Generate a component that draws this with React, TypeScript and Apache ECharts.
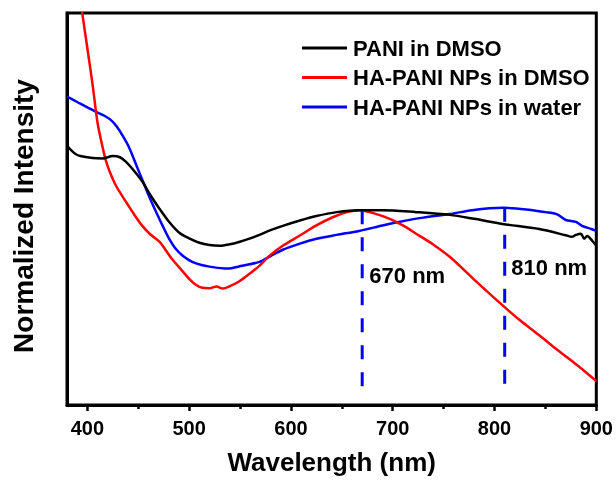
import React, { useEffect, useRef } from "react";
import * as echarts from "echarts";

const FONT = "'Liberation Sans', Arial, sans-serif";

// Wavelength ticks
const majorTicks = [400, 500, 600, 700, 800, 900];
const minorTicks = [450, 550, 650, 750, 850];

// Series names
const seriesNames = ["PANI in DMSO", "HA-PANI NPs in DMSO", "HA-PANI NPs in water"];
const seriesColors = ["#000000", "#ff0000", "#0000ff"];

// [wavelength (nm), normalized intensity]
const paniDmso = [
  [380, 66.2], [384, 65.0], [388, 64.1], [393, 63.5], [405, 63.0], [415, 62.9],
  [425, 63.5], [432, 63.2], [438, 62.0], [445, 60.0], [454, 57.0], [462, 53.5],
  [471, 50.0], [480, 46.8], [490, 44.0], [500, 42.5], [510, 41.4], [520, 40.8],
  [530, 40.6], [540, 41.0], [549, 41.6], [560, 42.5], [569, 43.4], [580, 44.6],
  [592, 45.7], [608, 47.0], [625, 48.2], [645, 49.2], [667, 49.7], [690, 49.7],
  [723, 49.2], [756, 48.5], [780, 47.5], [808, 46.2], [844, 44.9], [870, 43.3],
  [876, 42.9], [880, 43.4], [885, 43.7], [888, 42.4], [891, 43.1], [896, 41.9],
  [900, 40.6],
];

const haPaniDmso = [
  [380, 130], [388, 114], [395, 100], [400, 91], [405, 82], [410, 72],
  [414, 66.9], [418, 62.5], [422, 59.5], [428, 56.0], [438, 51.8], [446, 48.6],
  [454, 45.7], [462, 43.5], [471, 41.6], [477, 39.5], [483, 37.3], [492, 34.6],
  [500, 32.2], [507, 30.6], [513, 29.9], [520, 29.8], [527, 30.2], [533, 29.7],
  [540, 30.3], [549, 31.5], [559, 33.4], [569, 35.5], [579, 38.1], [593, 40.8],
  [608, 43.1], [625, 45.8], [641, 47.9], [655, 49.2], [667, 49.7], [680, 49.0],
  [697, 47.5], [710, 45.8], [723, 43.7], [740, 40.9], [756, 37.8], [780, 32.0],
  [808, 25.4], [825, 21.6], [844, 17.8], [860, 14.4], [876, 11.2], [890, 8.3],
  [900, 6.1],
];

const haPaniWater = [
  [380, 78.7], [390, 77.3], [400, 75.9], [410, 74.6], [418, 73.6], [424, 72.5],
  [429, 71.0], [434, 69.0], [441, 65.7], [449, 60.6], [455, 56.8], [461, 53.0],
  [468, 49.0], [474, 45.7], [480, 42.6], [487, 39.8], [495, 37.8], [503, 36.5],
  [512, 35.7], [520, 35.3], [537, 34.8], [552, 35.5], [569, 36.5], [580, 38.0],
  [592, 39.6], [608, 41.1], [625, 42.4], [645, 43.4], [667, 44.4], [690, 45.8],
  [706, 46.7], [730, 47.8], [756, 48.7], [778, 49.7], [808, 50.3], [831, 49.9],
  [850, 49.2], [861, 48.7], [870, 47.2], [880, 46.7], [886, 45.7], [895, 44.9],
  [900, 44.4],
];

// Peak markers (dashed vertical lines)
const peak670 = [[670, 49.7], [670, 3.8]];
const peak810 = [[810, 50.3], [810, 3.8]];

// Annotation text anchors [x, y] and texts
const annotationPoints = [[677, 33], [816.5, 35]];
const annotationTexts = ["670 nm", "810 nm"];

export default function App() {
  const ref = useRef<HTMLDivElement>(null);

  useEffect(() => {
    if (!ref.current) return;
    const chart = echarts.init(ref.current, undefined, { renderer: "svg" });

    const curves = [paniDmso, haPaniDmso, haPaniWater].map((d, i) => ({
      name: seriesNames[i],
      type: "line",
      data: d,
      symbol: "none",
      smooth: 0.3,
      xAxisIndex: 0,
      lineStyle: { color: seriesColors[i], width: 2.5 },
      itemStyle: { color: seriesColors[i] },
      clip: true,
      z: 3 - i,
    }));

    const dashed = [peak670, peak810].map((d) => ({
      type: "line",
      data: d,
      symbol: "none",
      xAxisIndex: 0,
      lineStyle: { color: "#0000ff", width: 3, type: [14, 13] },
      z: 1,
    }));

    const option = {
      animation: false,
      grid: {
        left: 67,
        right: 19,
        top: 13,
        bottom: 73,
        show: true,
        borderColor: "#000",
        borderWidth: 3,
        containLabel: false,
      },
      legend: {
        data: seriesNames,
        orient: "vertical",
        left: 297,
        top: 32,
        icon: "rect",
        itemWidth: 45,
        itemHeight: 3,
        itemGap: 7.5,
        selectedMode: false,
        textStyle: {
          fontFamily: FONT,
          fontWeight: "bold",
          fontSize: 22,
          lineHeight: 22,
          color: "#000",
          padding: [0, 0, 0, 1],
        },
      },
      xAxis: [
        {
          type: "value",
          min: 380,
          max: 900,
          position: "bottom",
          name: "Wavelength (nm)",
          nameLocation: "middle",
          nameGap: 44,
          nameTextStyle: { fontFamily: FONT, fontWeight: "bold", fontSize: 26, color: "#000" },
          axisLine: { show: true, lineStyle: { color: "#000", width: 3 } },
          axisTick: {
            show: true,
            inside: false,
            length: 6,
            customValues: majorTicks,
            lineStyle: { color: "#000", width: 2.5 },
          },
          axisLabel: {
            customValues: majorTicks,
            fontFamily: FONT,
            fontWeight: "bold",
            fontSize: 20,
            color: "#000",
            margin: 13,
          },
          splitLine: { show: false },
        },
        {
          type: "value",
          min: 380,
          max: 900,
          position: "bottom",
          axisLine: { show: false },
          axisTick: {
            show: true,
            inside: false,
            length: 4,
            customValues: minorTicks,
            lineStyle: { color: "#000", width: 2.5 },
          },
          axisLabel: { show: false },
          splitLine: { show: false },
        },
      ],
      yAxis: {
        type: "value",
        min: 0,
        max: 100,
        name: "Normalized Intensity",
        nameLocation: "middle",
        nameGap: 30,
        nameRotate: 90,
        nameTextStyle: {
          fontFamily: FONT,
          fontWeight: "bold",
          fontSize: 28,
          color: "#000",
          padding: [0, 14, 0, 0],
        },
        axisLine: { show: true, lineStyle: { color: "#000", width: 3 } },
        axisTick: { show: false },
        axisLabel: { show: false },
        splitLine: { show: false },
      },
      series: [...dashed, ...curves],
    };

    chart.setOption(option as any);

    // Annotation texts placed at data coordinates through the chart's scales
    const texts = annotationPoints.map((p, i) => {
      const px = chart.convertToPixel({ xAxisIndex: 0, yAxisIndex: 0 }, p) as number[];
      return {
        type: "text",
        x: px[0],
        y: px[1],
        silent: true,
        style: {
          text: annotationTexts[i],
          fill: "#000000",
          font: `bold 22px ${FONT}`,
          textAlign: "left",
          textVerticalAlign: "middle",
        },
        z: 10,
      };
    });
    chart.setOption({ graphic: texts } as any);

    return () => chart.dispose();
  }, []);

  return (
    <div
      ref={ref}
      style={{ position: "fixed", left: 0, top: 0, width: 616, height: 480 }}
    />
  );
}
